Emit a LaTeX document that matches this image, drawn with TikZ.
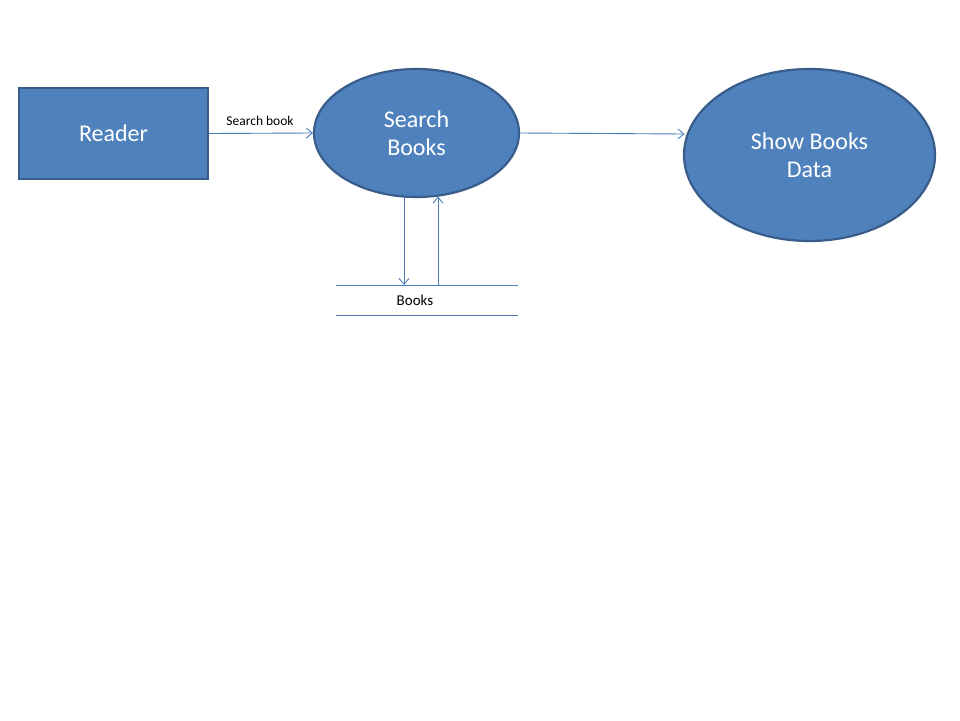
\documentclass[tikz,border=0pt]{standalone}
\usepackage{fontspec}
\setmainfont{Carlito}
\usetikzlibrary{shapes.geometric,arrows.meta}
\definecolor{boxfill}{HTML}{4F81BD}
\definecolor{boxline}{HTML}{385D8A}
\definecolor{flow}{HTML}{4A7EBB}
\begin{document}
\begin{tikzpicture}[x=1pt,y=-1pt,
  proc/.style={ellipse,draw=boxline,fill=boxfill,line width=2.2pt,inner sep=0pt,
    text=white,font=\fontsize{24}{28}\selectfont,align=center},
  ent/.style={rectangle,draw=boxline,fill=boxfill,line width=2.2pt,inner sep=0pt,
    text=white,font=\fontsize{24}{28}\selectfont},
  flowline/.style={draw=flow,line width=0.9pt,-{Straight Barb[length=6pt,width=10pt,line width=0.9pt]}},
  lbl/.style={text=black,inner sep=0pt}
]
\useasboundingbox[fill=white] (0,0) rectangle (960,720);
\node[ent,minimum width=189pt,minimum height=91pt] (reader) at (113.5,133.5) {Reader};
\node[proc,minimum width=205pt,minimum height=128pt] (search) at (416.5,133) {Search\\Books};
\node[proc,minimum width=251pt,minimum height=172pt] (show) at (809.5,155) {Show Books\\Data};
% data store
\coordinate (dsTL) at (336,285);
\coordinate (dsTR) at (518,285);
\coordinate (dsBL) at (336,315);
\coordinate (dsBR) at (518,315);
\draw[flow,line width=0.9pt] (dsTL) -- (dsTR);
\draw[flow,line width=0.9pt] (dsBL) -- (dsBR);
\node[lbl,font=\fontsize{15}{17}\selectfont] (books) at (415,300) {Books};
% flows
\draw[flowline] (reader.east) -- (search.west);
\node[lbl,font=\fontsize{13.5}{15}\selectfont] (sblabel) at (260,121) {Search book};
\coordinate (showin) at (684.5,134);
\draw[flowline] (search.east) -- (showin);
\coordinate (downA) at (404,285);
\coordinate (downS) at (404,197);
\coordinate (upB) at (438,285);
\coordinate (upE) at (438,196.5);
\draw[flowline] (downS) -- (downA);
\draw[flowline] (upB) -- (upE);
\end{tikzpicture}
\end{document}
